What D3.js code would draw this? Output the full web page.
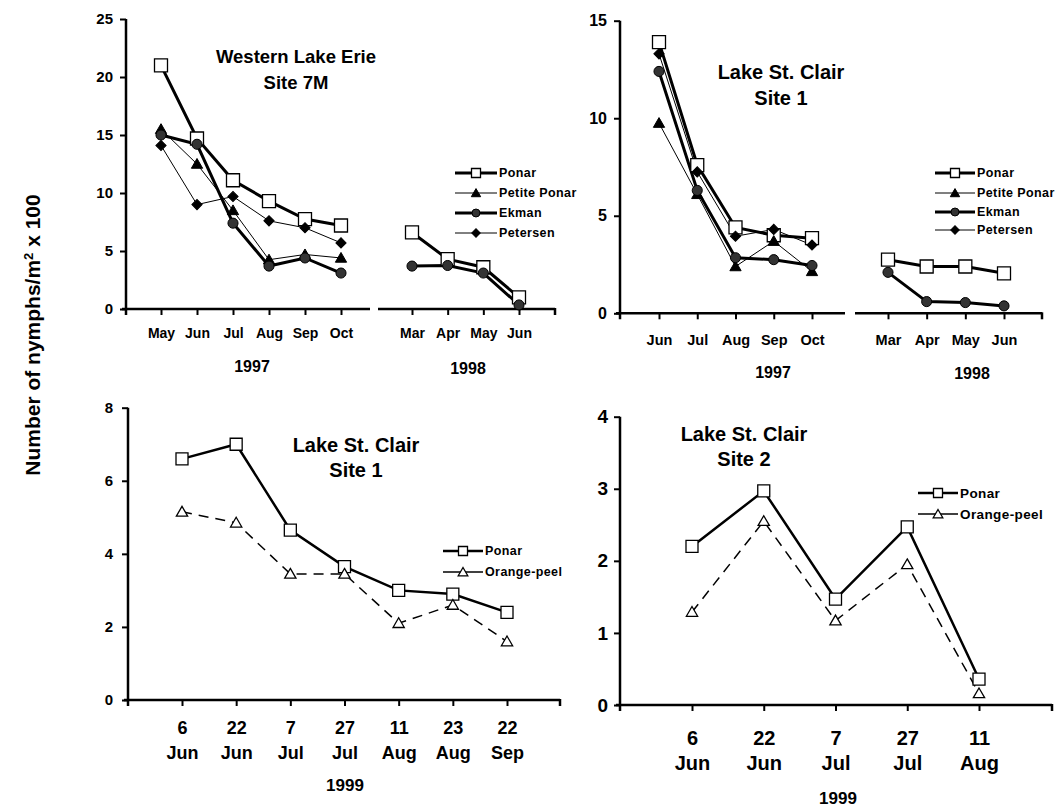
<!DOCTYPE html>
<html>
<head>
<meta charset="utf-8">
<script src="https://cdn.jsdelivr.net/npm/d3@7"></script>
<style>
  body { margin: 0; background: #fff; }
  svg text { font-family: "Liberation Sans", Arial, sans-serif; font-weight: bold; fill: #000; }
</style>
</head>
<body>
<svg id="chart" width="1055" height="809"></svg>
<script>
// ---- data (nymphs/m2 x 100) ----
const erieMonths97 = ["May", "Jun", "Jul", "Aug", "Sep", "Oct"];
const clairMonths97 = ["Jun", "Jul", "Aug", "Sep", "Oct"];
const months98 = ["Mar", "Apr", "May", "Jun"];
const dates99Site1 = ["6 Jun", "22 Jun", "7 Jul", "27 Jul", "11 Aug", "23 Aug", "22 Sep"];
const dates99Site2 = ["6 Jun", "22 Jun", "7 Jul", "27 Jul", "11 Aug"];

const erieTicks = [0, 5, 10, 15, 20, 25];
const clairTicks = [0, 5, 10, 15];
const site1Ticks = [0, 2, 4, 6, 8];
const site2Ticks = [0, 1, 2, 3, 4];

// Western Lake Erie, Site 7M
const eriePonar97 = [21.0, 14.7, 11.1, 9.3, 7.75, 7.2];
const eriePetite97 = [15.5, 12.5, 8.5, 4.25, 4.7, 4.4];
const erieEkman97 = [15.0, 14.2, 7.4, 3.7, 4.4, 3.1];
const eriePetersen97 = [14.1, 9.0, 9.7, 7.6, 7.0, 5.7];
const eriePonar98 = [6.6, 4.3, 3.6, 1.0];
const erieEkman98 = [3.7, 3.75, 3.1, 0.35];

// Lake St. Clair, Site 1 (1997-98)
const clairPonar97 = [13.9, 7.6, 4.4, 4.0, 3.85];
const clairPetite97 = [9.75, 6.1, 2.4, 3.7, 2.15];
const clairEkman97 = [12.4, 6.3, 2.85, 2.75, 2.45];
const clairPetersen97 = [13.3, 7.25, 3.95, 4.3, 3.5];
const clairPonar98 = [2.75, 2.4, 2.4, 2.05];
const clairEkman98 = [2.1, 0.6, 0.55, 0.38];

// Lake St. Clair 1999
const site1Ponar = [6.6, 7.0, 4.65, 3.65, 3.0, 2.9, 2.4];
const site1Orange = [5.15, 4.85, 3.45, 3.45, 2.1, 2.6, 1.6];
const site2Ponar = [2.2, 2.97, 1.47, 2.47, 0.36];
const site2Orange = [1.29, 2.55, 1.17, 1.95, 0.16];

const svg = d3.select("#chart");

// line / marker styles per sampler
const styles = {
    "Ponar":        { width: 3,   marker: "square",   fill: "#fff", size: 169, legendSize: 81 },
    "Petite Ponar": { width: 1,   marker: "triangle", fill: "#000", size: 55,  legendSize: 38 },
    "Ekman":        { width: 3,   marker: "circle",   fill: "#333", size: 80,  legendSize: 50 },
    "Petersen":     { width: 1,   marker: "diamond",  fill: "#000", size: 52,  legendSize: 36 },
    "Ponar99":      { width: 2.5, marker: "square",   fill: "#fff", size: 144, legendSize: 81 },
    "Orange-peel":  { width: 1.5, marker: "triangle", fill: "#fff", size: 55,  legendSize: 40, dash: "10,7" }
};

function symbolFor(st, size) {
    const types = { square: d3.symbolSquare, triangle: d3.symbolTriangle, circle: d3.symbolCircle, diamond: d3.symbolSquare };
    return d3.symbol().type(types[st.marker]).size(size)();
}

function drawMarker(g, st, x, y, size) {
    g.append("path")
        .attr("d", symbolFor(st, size))
        .attr("transform", `translate(${x},${y})` + (st.marker === "diamond" ? " rotate(45)" : "") + (st.marker === "triangle" ? " translate(0,1)" : ""))
        .attr("fill", st.fill)
        .attr("stroke", "#000")
        .attr("stroke-width", st.fill === "#fff" ? 1.3 : 1);
}

function drawPanel(p) {
    const g = svg.append("g");
    const y = d3.scaleLinear().domain([0, p.yMax]).range([p.y0, p.yTop]);

    // y axis
    g.append("line")
        .attr("x1", p.xAxis).attr("x2", p.xAxis)
        .attr("y1", p.yTop).attr("y2", p.y0 + 6)
        .attr("stroke", "#000").attr("stroke-width", 2.5);
    const ya = g.append("g")
        .attr("transform", `translate(${p.xAxis},0)`)
        .call(d3.axisLeft(y).tickValues(p.yTicks).tickFormat(d3.format("d")).tickSize(6).tickPadding(p.tickPad))
        .call(a => a.select(".domain").remove());
    ya.selectAll("line").attr("stroke-width", 2);
    ya.selectAll("text").style("font-size", p.yFont + "px");

    // title
    p.title.forEach((t, i) => {
        g.append("text")
            .attr("x", p.titleX).attr("y", p.titleY[i])
            .attr("dy", "0.35em")
            .attr("text-anchor", "middle")
            .style("font-size", p.titleFont + "px")
            .text(t);
    });

    // x segments
    p.segments.forEach(seg => {
        const x = d3.scalePoint().domain(seg.cats).range(seg.range);

        g.append("line")
            .attr("x1", seg.start).attr("x2", seg.end)
            .attr("y1", p.y0).attr("y2", p.y0)
            .attr("stroke", "#000").attr("stroke-width", 2.5);
        if (seg.endTick) {
            g.append("line")
                .attr("x1", seg.end).attr("x2", seg.end)
                .attr("y1", p.y0 - 1).attr("y2", p.y0 + 6)
                .attr("stroke", "#000").attr("stroke-width", 2.5);
        }

        const xa = g.append("g")
            .attr("transform", `translate(0,${p.y0})`)
            .call(d3.axisBottom(x).tickSize(6))
            .call(a => a.select(".domain").remove());
        xa.selectAll("line").attr("stroke-width", 2);
        const labels = xa.selectAll("text").style("font-size", seg.labelFont + "px");
        if (seg.twoLine) {
            labels.each(function(d) {
                const parts = d.split(" ");
                const t = d3.select(this).text(null).attr("y", 0).attr("dy", null);
                t.append("tspan").attr("x", 0).attr("y", seg.labelY[0] - p.y0).attr("dy", "0.35em").text(parts[0]);
                t.append("tspan").attr("x", 0).attr("y", seg.labelY[1] - p.y0).attr("dy", "0.35em").text(parts[1]);
            });
        } else {
            labels.attr("y", seg.labelY - p.y0).attr("dy", "0.35em");
        }

        g.append("text")
            .attr("x", seg.yearX).attr("y", seg.yearY)
            .attr("dy", "0.35em")
            .attr("text-anchor", "middle")
            .style("font-size", seg.yearFont + "px")
            .text(seg.year);

        const line = d3.line().x((d, i) => x(seg.cats[i])).y(d => y(d));
        seg.series.forEach(s => {
            const st = styles[s.style];
            g.append("path")
                .attr("d", line(s.values))
                .attr("fill", "none")
                .attr("stroke", "#000")
                .attr("stroke-width", st.width)
                .attr("stroke-dasharray", st.dash || null);
        });
        seg.series.forEach(s => {
            const st = styles[s.style];
            s.values.forEach((v, i) => drawMarker(g, st, x(seg.cats[i]), y(v), st.size));
        });
    });

    // legend
    const lg = p.legend;
    lg.items.forEach((it, i) => {
        const st = styles[it.style];
        const ly = lg.ys[i];
        g.append("line")
            .attr("x1", lg.x1).attr("x2", lg.x2)
            .attr("y1", ly).attr("y2", ly)
            .attr("stroke", "#000")
            .attr("stroke-width", st.width);
        drawMarker(g, st, (lg.x1 + lg.x2) / 2, ly, st.legendSize);
        g.append("text")
            .attr("x", lg.tx).attr("y", ly)
            .attr("dy", "0.35em")
            .style("font-size", lg.font + "px")
            .style("letter-spacing", "0.4px")
            .text(it.name);
    });
}

drawPanel({
    xAxis: 126, yTop: 19, y0: 309, yMax: 25, yTicks: erieTicks, yFont: 15, tickPad: 7,
    title: ["Western Lake Erie", "Site 7M"], titleX: 296, titleY: [57, 83], titleFont: 18.5,
    segments: [
        { cats: erieMonths97, range: [161, 341], start: 122, end: 370, labelY: 333, labelFont: 14,
          year: "1997", yearX: 252, yearY: 366, yearFont: 16,
          series: [
              { style: "Ponar", values: eriePonar97 },
              { style: "Petite Ponar", values: eriePetite97 },
              { style: "Ekman", values: erieEkman97 },
              { style: "Petersen", values: eriePetersen97 }
          ] },
        { cats: months98, range: [412, 519], start: 378, end: 555, endTick: true, labelY: 333, labelFont: 14,
          year: "1998", yearX: 468, yearY: 368, yearFont: 16,
          series: [
              { style: "Ponar", values: eriePonar98 },
              { style: "Ekman", values: erieEkman98 }
          ] }
    ],
    legend: { x1: 455, x2: 497, tx: 499, ys: [173, 193, 213, 233], font: 12.5,
              items: [{ name: "Ponar", style: "Ponar" }, { name: "Petite Ponar", style: "Petite Ponar" },
                      { name: "Ekman", style: "Ekman" }, { name: "Petersen", style: "Petersen" }] }
});

drawPanel({
    xAxis: 620, yTop: 20.7, y0: 313.3, yMax: 15, yTicks: clairTicks, yFont: 16, tickPad: 7,
    title: ["Lake St. Clair", "Site 1"], titleX: 781, titleY: [72, 98], titleFont: 20,
    segments: [
        { cats: clairMonths97, range: [659, 812], start: 616, end: 845, labelY: 340, labelFont: 14.5,
          year: "1997", yearX: 773, yearY: 372, yearFont: 16,
          series: [
              { style: "Ponar", values: clairPonar97 },
              { style: "Petite Ponar", values: clairPetite97 },
              { style: "Ekman", values: clairEkman97 },
              { style: "Petersen", values: clairPetersen97 }
          ] },
        { cats: months98, range: [888, 1004], start: 855, end: 1042, endTick: true, labelY: 340, labelFont: 14.5,
          year: "1998", yearX: 972, yearY: 373, yearFont: 16,
          series: [
              { style: "Ponar", values: clairPonar98 },
              { style: "Ekman", values: clairEkman98 }
          ] }
    ],
    legend: { x1: 935, x2: 975, tx: 977, ys: [173, 193, 212, 230], font: 12.5,
              items: [{ name: "Ponar", style: "Ponar" }, { name: "Petite Ponar", style: "Petite Ponar" },
                      { name: "Ekman", style: "Ekman" }, { name: "Petersen", style: "Petersen" }] }
});

drawPanel({
    xAxis: 128, yTop: 407.7, y0: 700, yMax: 8, yTicks: site1Ticks, yFont: 15, tickPad: 9,
    title: ["Lake St. Clair", "Site 1"], titleX: 356, titleY: [445, 470], titleFont: 20,
    segments: [
        { cats: dates99Site1, range: [182, 507], start: 124, end: 560, endTick: true, twoLine: true,
          labelY: [728, 753], labelFont: 18,
          year: "1999", yearX: 345, yearY: 785, yearFont: 17,
          series: [
              { style: "Ponar99", values: site1Ponar },
              { style: "Orange-peel", values: site1Orange }
          ] }
    ],
    legend: { x1: 443, x2: 483, tx: 485, ys: [551, 572], font: 12.5,
              items: [{ name: "Ponar", style: "Ponar99" }, { name: "Orange-peel", style: "Orange-peel" }] }
});

drawPanel({
    xAxis: 620, yTop: 416.7, y0: 705, yMax: 4, yTicks: site2Ticks, yFont: 19, tickPad: 6,
    title: ["Lake St. Clair", "Site 2"], titleX: 744, titleY: [434, 459], titleFont: 20,
    segments: [
        { cats: dates99Site2, range: [692, 979], start: 616, end: 1052, endTick: true, twoLine: true,
          labelY: [738, 763], labelFont: 20,
          year: "1999", yearX: 838, yearY: 798, yearFont: 17,
          series: [
              { style: "Ponar99", values: site2Ponar },
              { style: "Orange-peel", values: site2Orange }
          ] }
    ],
    legend: { x1: 918, x2: 958, tx: 960, ys: [493, 514], font: 13.5,
              items: [{ name: "Ponar", style: "Ponar99" }, { name: "Orange-peel", style: "Orange-peel" }] }
});

// shared y-axis title
const yt = svg.append("text")
    .attr("transform", "translate(33,335) rotate(-90)")
    .attr("dy", "0.35em")
    .attr("text-anchor", "middle")
    .style("font-size", "21px");
yt.append("tspan").text("Number of nymphs/m");
yt.append("tspan").attr("baseline-shift", "super").style("font-size", "13px").text("2");
yt.append("tspan").text(" x 100");
</script>
</body>
</html>
